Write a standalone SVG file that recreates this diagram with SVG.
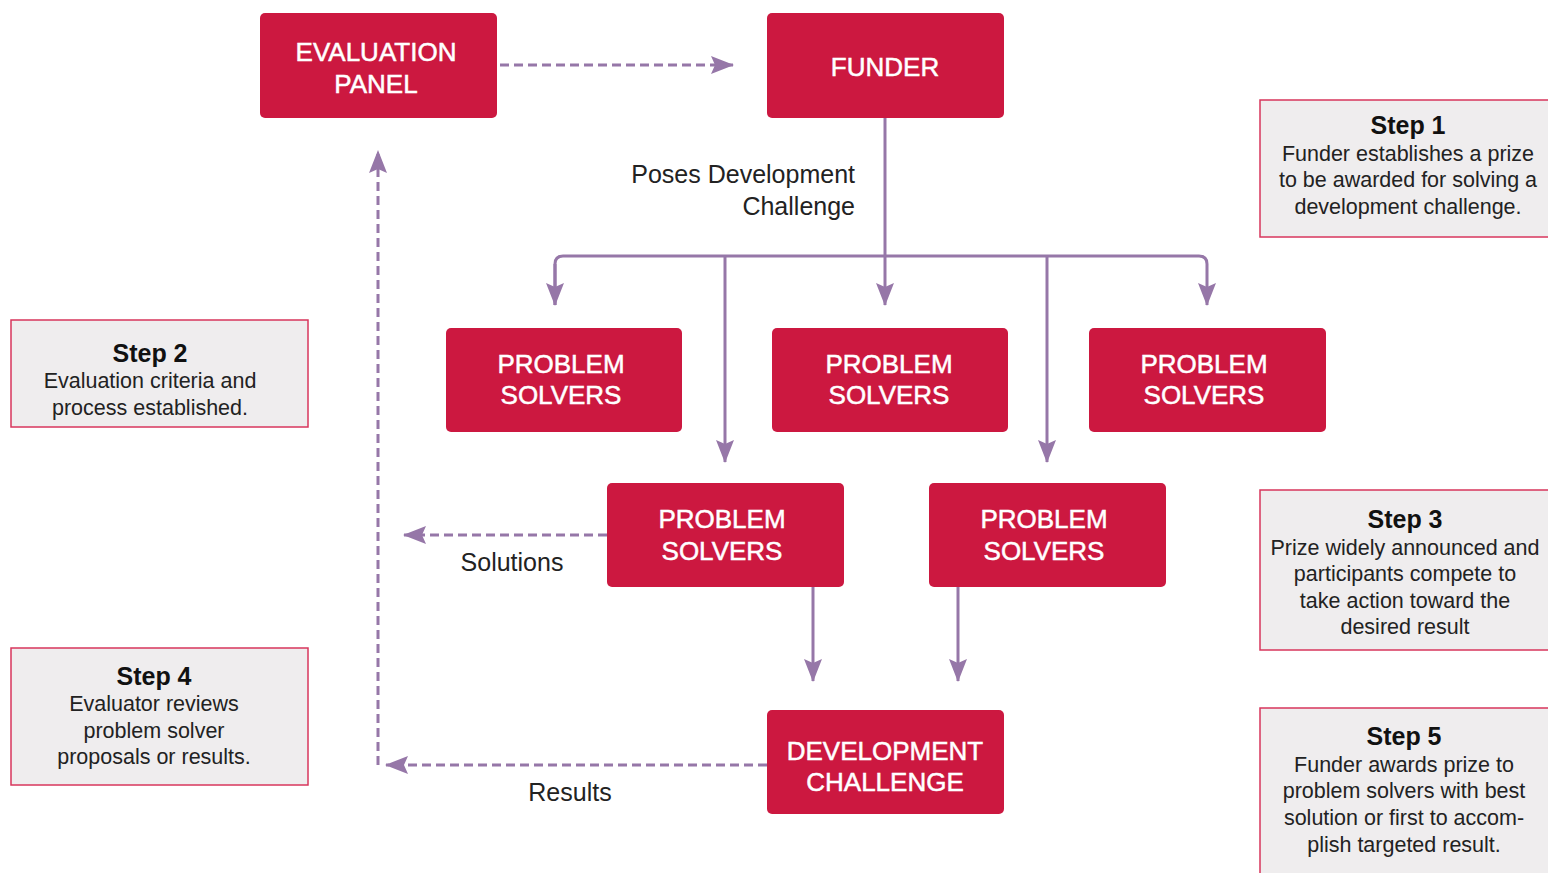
<svg xmlns="http://www.w3.org/2000/svg" width="1548" height="873" viewBox="0 0 1548 873">
<defs>
<style>
.node{fill:#cc1840;}
.nt{fill:#fff;stroke:#fff;stroke-width:0.5;font-family:"Liberation Sans",Arial,sans-serif;font-size:26px;text-anchor:middle;}
.c{fill:none;stroke:#9677a8;stroke-width:3;}
.d{fill:none;stroke:#9677a8;stroke-width:3;stroke-dasharray:9,5;}
.lbl{fill:#222;font-family:"Liberation Sans",Arial,sans-serif;font-size:25px;}
.step{fill:#efedee;stroke:#d8365c;stroke-width:1.5;}
.sh{fill:#111;font-family:"Liberation Sans",Arial,sans-serif;font-size:25px;font-weight:bold;text-anchor:middle;}
.sb{fill:#222;font-family:"Liberation Sans",Arial,sans-serif;font-size:21.5px;text-anchor:middle;}
</style>
<marker id="ah" viewBox="0 0 24 18" refX="22" refY="9" markerWidth="24" markerHeight="18" markerUnits="userSpaceOnUse" orient="auto">
<path d="M0,0 L23,9 L0,18 L4,9 Z" fill="#9677a8"/>
</marker>
</defs>
<g id="connectors">
<path class="d" d="M500,65 L733,65" marker-end="url(#ah)"/>
<path class="c" d="M885,118 L885,305" marker-end="url(#ah)"/>
<path class="c" d="M555,305 L555,264 Q555,256 563,256 L1199,256 Q1207,256 1207,264 L1207,305" marker-end="url(#ah)"/>
<path class="c" d="M555,264 L555,305" marker-end="url(#ah)"/>
<path class="c" d="M725,256 L725,462" marker-end="url(#ah)"/>
<path class="c" d="M1047,256 L1047,462" marker-end="url(#ah)"/>
<path class="c" d="M813,587 L813,681" marker-end="url(#ah)"/>
<path class="c" d="M958,587 L958,681" marker-end="url(#ah)"/>
<path class="d" d="M607,535 L404,535" marker-end="url(#ah)"/>
<path class="d" d="M767,765 L386,765" marker-end="url(#ah)"/>
<path class="d" d="M378,765 L378,151" marker-end="url(#ah)"/>
<text class="lbl" x="855" y="183" text-anchor="end">Poses Development</text>
<text class="lbl" x="855" y="215" text-anchor="end">Challenge</text>
<text class="lbl" x="512" y="571" text-anchor="middle">Solutions</text>
<text class="lbl" x="570" y="801" text-anchor="middle">Results</text>
</g>
<g id="evaluation-panel">
<rect class="node" x="260" y="13" width="237" height="105" rx="5"/>
<text class="nt" x="376" y="61">EVALUATION</text>
<text class="nt" x="376" y="93">PANEL</text>
</g>
<g id="funder">
<rect class="node" x="767" y="13" width="237" height="105" rx="5"/>
<text class="nt" x="885" y="76">FUNDER</text>
</g>
<g id="ps1">
<rect class="node" x="446" y="328" width="236" height="104" rx="5"/>
<text class="nt" x="561" y="373">PROBLEM</text>
<text class="nt" x="561" y="404">SOLVERS</text>
</g>
<g id="ps2">
<rect class="node" x="772" y="328" width="236" height="104" rx="5"/>
<text class="nt" x="889" y="373">PROBLEM</text>
<text class="nt" x="889" y="404">SOLVERS</text>
</g>
<g id="ps3">
<rect class="node" x="1089" y="328" width="237" height="104" rx="5"/>
<text class="nt" x="1204" y="373">PROBLEM</text>
<text class="nt" x="1204" y="404">SOLVERS</text>
</g>
<g id="ps4">
<rect class="node" x="607" y="483" width="237" height="104" rx="5"/>
<text class="nt" x="722" y="528">PROBLEM</text>
<text class="nt" x="722" y="560">SOLVERS</text>
</g>
<g id="ps5">
<rect class="node" x="929" y="483" width="237" height="104" rx="5"/>
<text class="nt" x="1044" y="528">PROBLEM</text>
<text class="nt" x="1044" y="560">SOLVERS</text>
</g>
<g id="dev-challenge">
<rect class="node" x="767" y="710" width="237" height="104" rx="5"/>
<text class="nt" x="885" y="760">DEVELOPMENT</text>
<text class="nt" x="885" y="791">CHALLENGE</text>
</g>
<g id="step1">
<rect class="step" x="1260" y="100" width="300" height="137"/>
<text class="sh" x="1408" y="134">Step 1</text>
<text class="sb" x="1408" y="161">Funder establishes a prize</text>
<text class="sb" x="1408" y="187">to be awarded for solving a</text>
<text class="sb" x="1408" y="214">development challenge.</text>
</g>
<g id="step2">
<rect class="step" x="11" y="320" width="297" height="107"/>
<text class="sh" x="150" y="362">Step 2</text>
<text class="sb" x="150" y="388">Evaluation criteria and</text>
<text class="sb" x="150" y="415">process established.</text>
</g>
<g id="step3">
<rect class="step" x="1260" y="490" width="300" height="160"/>
<text class="sh" x="1405" y="528">Step 3</text>
<text class="sb" x="1405" y="555">Prize widely announced and</text>
<text class="sb" x="1405" y="581">participants compete to</text>
<text class="sb" x="1405" y="608">take action toward the</text>
<text class="sb" x="1405" y="634">desired result</text>
</g>
<g id="step4">
<rect class="step" x="11" y="648" width="297" height="137"/>
<text class="sh" x="154" y="685">Step 4</text>
<text class="sb" x="154" y="711">Evaluator reviews</text>
<text class="sb" x="154" y="738">problem solver</text>
<text class="sb" x="154" y="764">proposals or results.</text>
</g>
<g id="step5">
<rect class="step" x="1260" y="708" width="300" height="180"/>
<text class="sh" x="1404" y="745">Step 5</text>
<text class="sb" x="1404" y="772">Funder awards prize to</text>
<text class="sb" x="1404" y="798">problem solvers with best</text>
<text class="sb" x="1404" y="825">solution or first to accom-</text>
<text class="sb" x="1404" y="852">plish targeted result.</text>
</g>
</svg>
